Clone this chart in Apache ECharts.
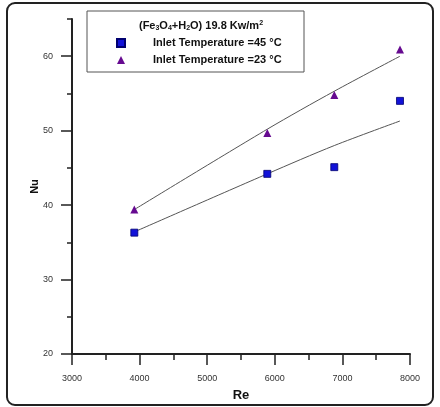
<!DOCTYPE html>
<html>
<head>
<meta charset="utf-8">
<script src="https://cdn.jsdelivr.net/npm/echarts@6/dist/echarts.min.js"></script>
<style>
html,body{margin:0;padding:0;background:#fff;}
#chart{width:440px;height:407px;}
</style>
</head>
<body>
<div id="chart"></div>
<script>
// Data
const re = [3922, 5889, 6880, 7852];
const nu45 = [36.3, 44.2, 45.1, 54.0];
const nu23 = [39.4, 49.7, 54.8, 60.9];
const fit45 = [36.4, 44.2, 48.0, 51.3];
const fit23 = [39.4, 50.2, 55.3, 60.0];
const yMajorTicks = [20, 30, 40, 50, 60];
const legendNames = ['Inlet Temperature =45 \u00B0C', 'Inlet Temperature =23 \u00B0C'];

const pairs = (xs, ys) => xs.map((x, i) => [x, ys[i]]);
const font = 'Liberation Sans, Arial, sans-serif';

const chart = echarts.init(document.getElementById('chart'), null, {renderer: 'canvas'});
chart.setOption({
  animation: false,
  backgroundColor: '#fff',
  grid: {left: 72, right: 30, top: 19, bottom: 48},
  xAxis: {
    type: 'value', min: 3000, max: 8000, interval: 1000,
    name: 'Re', nameLocation: 'middle', nameGap: 35, nameMoveOverlap: false,
    nameTextStyle: {fontFamily: font, fontWeight: 'bold', fontSize: 13, color: '#111'},
    axisLine: {show: true, onZero: false, lineStyle: {color: '#222', width: 2}},
    axisTick: {show: true, inside: false, length: 11, lineStyle: {color: '#222', width: 1.5}},
    minorTick: {show: true, splitNumber: 2, length: 6, lineStyle: {color: '#222', width: 1.5}},
    axisLabel: {margin: 20, fontFamily: font, fontSize: 9, color: '#333', formatter: v => String(v)},
    splitLine: {show: false}, minorSplitLine: {show: false}
  },
  yAxis: [{
    type: 'value', min: 20, max: 65, interval: 5,
    name: 'Nu', nameLocation: 'middle', nameGap: 32, nameRotate: 90, nameMoveOverlap: false,
    nameTextStyle: {fontFamily: font, fontWeight: 'bold', fontSize: 11, color: '#111'},
    axisLine: {show: true, onZero: false, lineStyle: {color: '#222', width: 2}},
    axisTick: {show: true, length: 5, lineStyle: {color: '#222', width: 1.5}},
    axisLabel: {margin: 19, fontFamily: font, fontSize: 9, color: '#333',
      formatter: v => (v % 10 === 0 ? String(v) : '')},
    splitLine: {show: false}
  }, {
    type: 'value', min: 20, max: 65, position: 'left',
    axisLine: {show: false},
    axisTick: {show: true, length: 11, customValues: yMajorTicks, lineStyle: {color: '#222', width: 1.5}},
    axisLabel: {show: false},
    splitLine: {show: false}
  }],
  legend: {
    orient: 'vertical', left: 116, top: 37, padding: 0, itemWidth: 8, itemHeight: 8, itemGap: 5,
    data: legendNames,
    textStyle: {fontFamily: font, fontWeight: 'bold', fontSize: 11, lineHeight: 12, color: '#111', padding: [0, 0, 0, 23]}
  },
  graphic: [
    {type: 'rect', z: 0, shape: {x: 7, y: 3, width: 426, height: 402, r: 8},
      style: {fill: 'none', stroke: '#222', lineWidth: 2}},
    {type: 'rect', z: 1, shape: {x: 87, y: 11, width: 217, height: 61},
      style: {fill: '#fff', stroke: '#555', lineWidth: 1}},
    {type: 'text', z: 5, x: 201, y: 26,
      style: {
        text: '{b|(Fe}{s|3}{b|O}{s|4}{b|+H}{s|2}{b|O) 19.8 Kw/m}{p|2}',
        align: 'center', verticalAlign: 'middle',
        rich: {
          b: {fontFamily: font, fontWeight: 'bold', fontSize: 11, fill: '#111', color: '#111'},
          s: {fontFamily: font, fontWeight: 'bold', fontSize: 7, fill: '#111', color: '#111', verticalAlign: 'bottom', padding: [5, 0, 0, 0]},
          p: {fontFamily: font, fontWeight: 'bold', fontSize: 7, fill: '#111', color: '#111', verticalAlign: 'top', padding: [0, 0, 5, 0]}
        }
      }}
  ],
  series: [
    {name: 'fit45', type: 'line', data: pairs(re, fit45), smooth: 0.3, showSymbol: false, symbol: 'none',
      lineStyle: {color: '#555', width: 1}, z: 2, silent: true},
    {name: 'fit23', type: 'line', data: pairs(re, fit23), smooth: 0.3, showSymbol: false, symbol: 'none',
      lineStyle: {color: '#555', width: 1}, z: 2, silent: true},
    {name: legendNames[0], type: 'scatter', data: pairs(re, nu45), symbol: 'rect', symbolSize: 7,
      itemStyle: {color: '#1212d8', borderColor: '#000070', borderWidth: 0.8, opacity: 1}, z: 3},
    {name: legendNames[1], type: 'scatter', data: pairs(re, nu23), symbol: 'triangle', symbolSize: 8,
      itemStyle: {color: '#660a90', opacity: 1}, z: 3}
  ]
});
</script>
</body>
</html>
